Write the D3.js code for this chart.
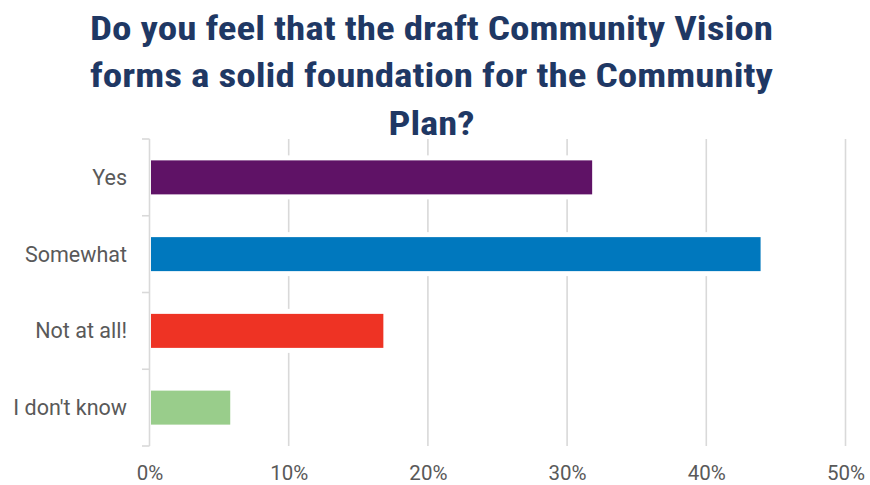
<!DOCTYPE html>
<html>
<head>
<meta charset="utf-8">
<script src="https://cdn.jsdelivr.net/npm/d3@7"></script>
<style>
  html, body { margin: 0; padding: 0; background: #fff; }
  svg { display: block; }
</style>
</head>
<body>
<svg id="chart" width="870" height="485"></svg>
<script>
// Survey responses: share of respondents per answer
const categories = ["Yes", "Somewhat", "Not at all!", "I don't know"];
const shares = [0.318, 0.439, 0.168, 0.058];
const barColors = ["#5f1266", "#0078be", "#ee3324", "#99cd8b"];
const tickValues = [0, 0.1, 0.2, 0.3, 0.4, 0.5];
const titleLines = [
  "Do you feel that the draft Community Vision",
  "forms a solid foundation for the Community",
  "Plan?"
];

const rows = categories.map((c, i) => ({ cat: c, value: shares[i], color: barColors[i] }));

const svg = d3.select("#chart");
const plot = { left: 149.5, right: 845.5, top: 139, bottom: 446 };

const x = d3.scaleLinear().domain([0, 0.5]).range([plot.left, plot.right]);
const y = d3.scaleBand()
  .domain(categories)
  .range([plot.top, plot.bottom])
  .paddingInner(0.557)
  .paddingOuter(0.557 / 2);

const grid = "#d9d9d9";
const labelColor = "#595959";
const labelFont = "Roboto, 'Noto Sans', sans-serif";

// Title
const titleFont = "'Roboto Condensed', 'DejaVu Sans Condensed', 'Liberation Sans Narrow', Roboto, sans-serif";
const titleSpec = [
  { y: 39.5, width: 683 },
  { y: 87, width: 683 },
  { y: 134.5, width: 86 }
];
svg.append("g").selectAll("text")
  .data(titleLines)
  .join("text")
  .attr("x", 431.5)
  .attr("y", (d, i) => titleSpec[i].y)
  .attr("text-anchor", "middle")
  .attr("font-family", titleFont)
  .attr("font-weight", 700)
  .attr("font-size", 33)
  .attr("fill", "#1f3864")
  .attr("textLength", (d, i) => titleSpec[i].width)
  .attr("lengthAdjust", "spacingAndGlyphs")
  .text(d => d);

// Vertical gridlines
svg.append("g")
  .selectAll("line")
  .data(tickValues.filter(v => v > 0))
  .join("line")
  .attr("x1", d => x(d)).attr("x2", d => x(d))
  .attr("y1", plot.top).attr("y2", plot.bottom)
  .attr("stroke", grid)
  .attr("stroke-width", 1.6);

// White halo behind each bar so gridlines break around it
svg.append("g")
  .selectAll("rect")
  .data(rows)
  .join("rect")
  .attr("x", x(0) + 1)
  .attr("y", d => y(d.cat) - 5)
  .attr("width", d => x(d.value) - x(0) - 1)
  .attr("height", y.bandwidth() + 10)
  .attr("fill", "#fff");

// Bars
svg.append("g")
  .selectAll("rect")
  .data(rows)
  .join("rect")
  .attr("x", x(0) + 1.5)
  .attr("y", d => y(d.cat))
  .attr("width", d => x(d.value) - x(0) - 1.5)
  .attr("height", y.bandwidth())
  .attr("fill", d => d.color);

// Category axis line with ticks at band boundaries
const yAxisG = svg.append("g");
yAxisG.append("line")
  .attr("x1", plot.left).attr("x2", plot.left)
  .attr("y1", plot.top).attr("y2", plot.bottom)
  .attr("stroke", grid).attr("stroke-width", 1.6);
const boundaries = d3.range(categories.length + 1).map(i => plot.top + i * y.step());
yAxisG.selectAll("line.tick")
  .data(boundaries)
  .join("line")
  .attr("class", "tick")
  .attr("x1", plot.left - 7.5).attr("x2", plot.left)
  .attr("y1", d => d).attr("y2", d => d)
  .attr("stroke", grid).attr("stroke-width", 1.6);

// Category labels
const yAxis = d3.axisLeft(y).tickSize(0).tickPadding(22.5);
const yl = svg.append("g")
  .attr("transform", `translate(${plot.left},0)`)
  .call(yAxis);
yl.select(".domain").remove();
yl.selectAll("text")
  .attr("font-family", labelFont)
  .attr("font-size", 21.5)
  .attr("fill", labelColor)
  .attr("dy", "0.35em");

// Percentage axis labels
const xAxis = d3.axisBottom(x)
  .tickValues(tickValues)
  .tickFormat(d3.format(".0%"))
  .tickSize(0)
  .tickPadding(0);
const xl = svg.append("g")
  .attr("transform", `translate(0,${plot.bottom})`)
  .call(xAxis);
xl.select(".domain").remove();
xl.selectAll("text")
  .attr("font-family", labelFont)
  .attr("font-size", 20.5)
  .attr("fill", labelColor)
  .attr("dy", null)
  .attr("y", 33.5);
</script>
</body>
</html>
